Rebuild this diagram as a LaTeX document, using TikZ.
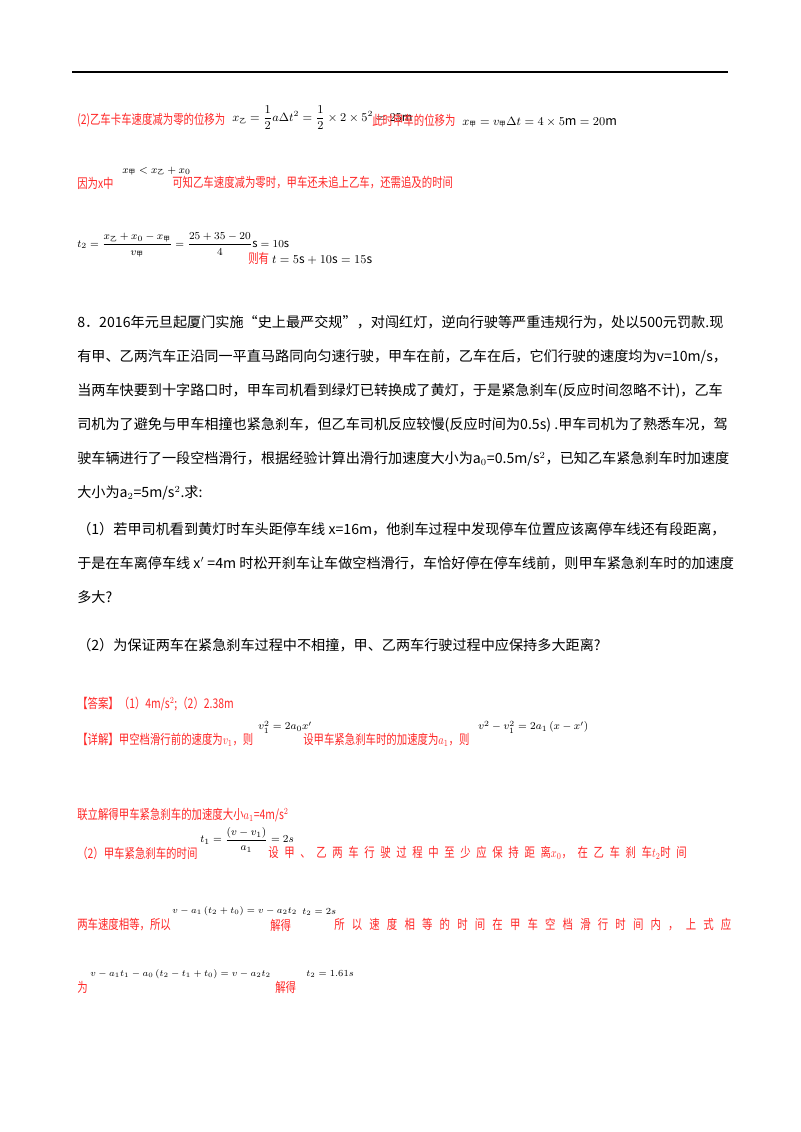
\documentclass[tikz,border=0pt]{standalone}
\usepackage{amsmath}
\usepackage{graphicx}
\usepackage{fontspec}
\setmainfont{Noto Sans CJK SC}
\newfontfamily\cjk{Noto Sans CJK SC}
\newfontfamily\cjkA[LetterSpace=54]{Noto Sans CJK SC}
\newfontfamily\cjkB[LetterSpace=69]{Noto Sans CJK SC}
\definecolor{rd}{RGB}{255,40,40}
\newcommand{\sq}[1]{\scalebox{0.78}[1]{#1}}
\begin{document}
\begin{tikzpicture}[x=0.75pt,y=-0.75pt,
 t/.style={anchor=west,inner sep=0pt,font=\fontsize{10.6}{12}\selectfont},
 r/.style={anchor=west,inner sep=0pt,text=rd,font=\fontsize{10}{12}\selectfont},
 m/.style={anchor=west,inner sep=0pt,font=\fontsize{8.6}{11}\selectfont},
 ms/.style={anchor=west,inner sep=0pt,font=\fontsize{8.4}{10}\selectfont},
 mx/.style={anchor=west,inner sep=0pt,font=\fontsize{7.4}{9}\selectfont}]
\useasboundingbox[fill=white] (0,0) rectangle (800,1132);
\draw[line width=1.2pt] (72,72) coordinate (ra) -- (728,72) coordinate (rb);
% block 1
\node[r] (a1) at (77,120) {\sq{(2)乙车卡车速度减为零的位移为}};
\node[m] (a2) at (232,118) {$x_{\text{\cjk\tiny 乙}}=\dfrac12 a\Delta t^2=\dfrac12\times2\times5^2=25\mathrm{m}$};
\node[r] (a3) at (372,120) {\sq{此时甲车的位移为}};
\node[ms,font=\fontsize{9.4}{11}\selectfont] (a4) at (462,122) {$x_{\text{\cjk\tiny 甲}}=v_{\text{\cjk\tiny 甲}}\Delta t=4\times5\mathrm{m}=20\mathrm{m}$};
\node[r] (b1) at (77,183) {\sq{因为\textit{x}中}};
\node[ms] (b2) at (122,171) {$x_{\text{\cjk\tiny 甲}}<x_{\text{\cjk\tiny 乙}}+x_0$};
\node[r] (b3) at (172,183) {\sq{可知乙车速度减为零时，甲车还未追上乙车，还需追及的时间}};
\node[ms] (c1) at (77,245) {$t_2=\dfrac{x_{\text{\cjk\tiny 乙}}+x_0-x_{\text{\cjk\tiny 甲}}}{v_{\text{\cjk\tiny 甲}}}=\dfrac{25+35-20}{4}\mathrm{s}=10\mathrm{s}$};
\node[r] (c2) at (248,258) {\sq{则有} \color{black}\fontsize{9}{11}\selectfont$t=5\mathrm{s}+10\mathrm{s}=15\mathrm{s}$};
% problem 8
\node[t] (p1) at (77,322) {8．2016年元旦起厦门实施“史上最严交规”，对闯红灯，逆向行驶等严重违规行为，处以500元罚款.现};
\node[t] (p2) at (77,357) {有甲、乙两汽车正沿同一平直马路同向匀速行驶，甲车在前，乙车在后，它们行驶的速度均为v=10m/s，};
\node[t] (p3) at (77,391) {当两车快要到十字路口时，甲车司机看到绿灯已转换成了黄灯，于是紧急刹车(反应时间忽略不计)，乙车};
\node[t] (p4) at (77,425) {司机为了避免与甲车相撞也紧急刹车，但乙车司机反应较慢(反应时间为0.5s) .甲车司机为了熟悉车况，驾};
\node[t] (p5) at (77,459) {驶车辆进行了一段空档滑行，根据经验计算出滑行加速度大小为a$_0$=0.5m/s$^2$，已知乙车紧急刹车时加速度};
\node[t] (p6) at (77,493) {大小为a$_2$=5m/s$^2$.求:};
\node[t] (q1) at (77,529) {（1）若甲司机看到黄灯时车头距停车线 x=16m，他刹车过程中发现停车位置应该离停车线还有段距离，};
\node[t] (q2) at (77,563) {于是在车离停车线 x$'$ =4m 时松开刹车让车做空档滑行，车恰好停在停车线前，则甲车紧急刹车时的加速度};
\node[t] (q3) at (77,597) {多大?};
\node[t] (q4) at (77,645) {（2）为保证两车在紧急刹车过程中不相撞，甲、乙两车行驶过程中应保持多大距离?};
% answer
\node[r] (s1) at (77,704) {\sq{【答案】（1）4m/s$^2$;（2）2.38m}};
\node[r] (s2) at (77,740) {\sq{【详解】甲空档滑行前的速度为$v_1$，则}};
\node[ms] (s3) at (258,727) {$v_1^2=2a_0x'$};
\node[r] (s4) at (303,740) {\sq{设甲车紧急刹车时的加速度为$a_1$，则}};
\node[ms] (s5) at (478,727) {$v^2-v_1^2=2a_1\left(x-x'\right)$};
\node[r] (s6) at (77,815) {\sq{联立解得甲车紧急刹车的加速度大小$a_1$=4m/s$^2$}};
\node[r] (u1) at (77,853) {\sq{（2）甲车紧急刹车的时间}};
\node[ms] (u2) at (200,840) {$t_1=\dfrac{(v-v_1)}{a_1}=2s$};
\node[r] (u3) at (268,853) {\sq{\cjkA 设甲、乙两车行驶过程中至少应保持距离$x_0$，在乙车刹车$t_2$时间}};
\node[r] (v1) at (77,925) {\sq{两车速度相等，所以}};
\node[mx] (v2) at (172,911) {$v-a_1\left(t_2+t_0\right)=v-a_2t_2$};
\node[r] (v3) at (270,925) {\sq{解得}};
\node[mx] (v4) at (302,912) {$t_2=2s$};
\node[r] (v5) at (334,925) {\sq{\cjkB 所以速度相等的时间在甲车空档滑行时间内，上式应}};
\node[r] (w1) at (77,987) {\sq{为}};
\node[mx] (w2) at (90,974) {$v-a_1t_1-a_0\left(t_2-t_1+t_0\right)=v-a_2t_2$};
\node[r] (w3) at (275,987) {\sq{解得}};
\node[mx] (w4) at (306,974) {$t_2=1.61s$};
\end{tikzpicture}
\end{document}
